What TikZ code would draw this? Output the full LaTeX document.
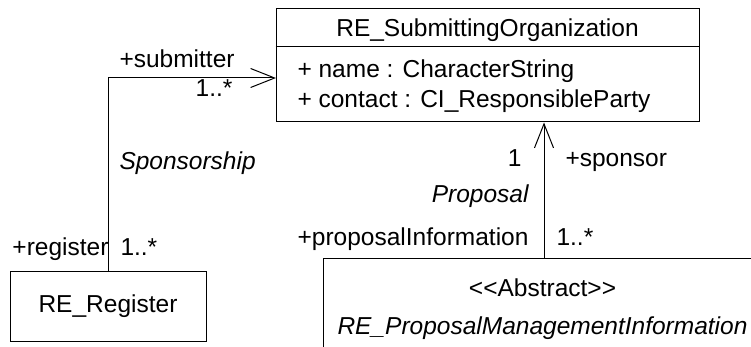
\documentclass[tikz,border=0pt]{standalone}
\usepackage{fontspec}
\setmainfont{Liberation Sans}
\usetikzlibrary{arrows.meta}
\begin{document}
\begin{tikzpicture}[x=1pt,y=-1pt,line width=1pt,
  lbl/.style={inner sep=0pt,font=\fontsize{24.5}{29}\selectfont},
  cls/.style={draw,inner sep=0pt,font=\fontsize{24.5}{29}\selectfont},
  assoc/.style={-{Straight Barb[length=24pt,width=19pt]}}]
\useasboundingbox (0,0) rectangle (751,347);
\clip (0,0) rectangle (751,347);
% classes
\node[cls,minimum width=423pt,minimum height=113pt] (org) at (487.5,65.5) {};
\node[lbl,anchor=base] (orgname) at (487.5,37) {RE\_SubmittingOrganization};
\coordinate (divy) at (0,47);
\draw (org.west |- divy) -- (org.east |- divy);
\node[lbl,anchor=base west] (attr1) at (297,78) {+ name : CharacterString};
\node[lbl,anchor=base west] (attr2) at (297,108) {+ contact : CI\_ResponsibleParty};

\node[cls,minimum width=196pt,minimum height=70pt] (reg) at (108,306) {RE\_Register};

\node[cls,minimum width=442pt,minimum height=102pt] (prop) at (544,309) {};
\node[lbl,anchor=base] (stereo) at (542.5,296) {<\kern0pt<Abstract>\kern0pt>};
\node[lbl,anchor=base] (pname) at (542.5,334) {\itshape RE\_ProposalManagementInformation};

% connectors
\coordinate (subm) at (276,78);
\draw[assoc] (reg.north) |- (subm);
\draw[assoc] (prop.north) -- (prop.north |- org.south);

% labels
\node[lbl,anchor=base west] (l1) at (119,68) {+submitter};
\node[lbl,anchor=base east] (l2) at (233,97) {1..*};
\node[lbl,anchor=base west] (l3) at (119,170) {\itshape Sponsorship};
\node[lbl,anchor=base west] (l4) at (12,255) {+register};
\node[lbl,anchor=base west] (l5) at (120,255) {1..*};
\node[lbl,anchor=base east] (l6) at (522,167) {1};
\node[lbl,anchor=base west] (l7) at (565,167) {+sponsor};
\node[lbl,anchor=base east] (l8) at (529,203) {\itshape Proposal};
\node[lbl,anchor=base east] (l9) at (529,245) {+proposalInformation};
\node[lbl,anchor=base west] (l10) at (556,245) {1..*};
\end{tikzpicture}
\end{document}
